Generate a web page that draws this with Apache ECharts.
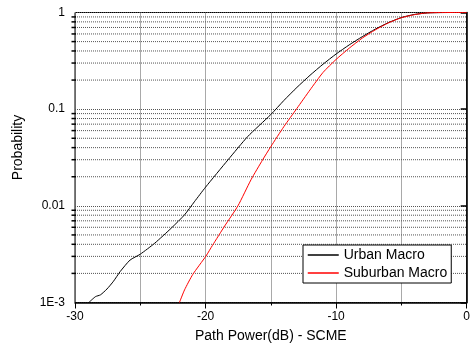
<!DOCTYPE html>
<html>
<head>
<meta charset="utf-8">
<script src="https://cdn.jsdelivr.net/npm/echarts@6/dist/echarts.min.js"></script>
<style>
  html, body { margin: 0; padding: 0; background: #fff; }
  #chart { width: 473px; height: 350px; }
</style>
</head>
<body>
<div id="chart"></div>
<script>
// CDF of path power, SCME channel model
const seriesNames = ['Urban Macro', 'Suburban Macro'];

// Urban Macro: path power (dB) and cumulative probability
const urbanDb = [-28.94, -28.43, -28.05, -27.55, -27.05, -26.54, -25.78, -25.0, -23.89, -22.62,
  -21.61, -20.86, -20.0, -18.28, -16.77, -15.0, -14.0, -13.0, -12.0, -11.0, -10.0,
  -9.0, -8.0, -7.0, -6.0, -5.0, -4.0, -3.0, -2.0, -1.0, 0];
const urbanP = [0.001, 0.00115, 0.0012, 0.00138, 0.00166, 0.00209, 0.00275, 0.00316, 0.00411, 0.00589,
  0.00807, 0.011, 0.0156, 0.0299, 0.0521, 0.088, 0.123, 0.168, 0.224, 0.292, 0.372,
  0.462, 0.562, 0.673, 0.785, 0.887, 0.955, 0.989, 0.998, 1.0, 1.0];

// Suburban Macro: path power (dB) and cumulative probability
const suburbanDb = [-22.0, -21.61, -20.98, -19.97, -19.47, -18.53, -17.52, -16.52, -15.63,
  -15.0, -14.0, -13.0, -12.0, -11.0, -10.0, -9.0, -8.0, -7.0, -6.0, -5.0, -4.0,
  -3.1, -2.0, 0];
const suburbanP = [0.001, 0.00135, 0.00195, 0.00302, 0.0039, 0.0062, 0.01, 0.0186, 0.0299,
  0.041, 0.066, 0.102, 0.158, 0.24, 0.327, 0.427, 0.543, 0.661, 0.78, 0.883, 0.95,
  0.99, 0.999, 1.0];

// Axis ticks
const xTicks = [-30, -20, -10, 0];
const yDecades = [0.001, 0.01, 0.1, 1];
const yTickLabels = ['1E-3', '0.01', '0.1', '1'];

// Minor log positions 2..9 within each decade
const yMinor = [];
yDecades.slice(0, -1).forEach(d => {
  for (let k = 2; k <= 9; k++) yMinor.push(+(k * d).toPrecision(3));
});

const FONT = 'Liberation Sans, Arial, sans-serif';
const toPairs = (xs, ys) => xs.map((x, i) => [x, ys[i]]);
const dotted = { color: '#555', width: 1, type: [1, 1] };

const chart = echarts.init(document.getElementById('chart'), null, { renderer: 'canvas' });

chart.setOption({
  animation: false,
  backgroundColor: '#fff',
  grid: {
    left: 75, right: 2, top: 12.5, bottom: 47.5,
    show: true, borderColor: '#000', borderWidth: 1, backgroundColor: 'transparent'
  },
  legend: {
    data: seriesNames,
    orient: 'vertical',
    left: 303, top: 245,
    itemWidth: 31, itemHeight: 14, itemGap: 4,
    padding: [3, 4, 3, 4],
    borderColor: '#000', borderWidth: 1, borderRadius: 0,
    backgroundColor: '#fff',
    itemStyle: { opacity: 0 },
    lineStyle: { width: 1.5 },
    textStyle: { fontFamily: FONT, fontSize: 14, color: '#000' },
    z: 10
  },
  xAxis: {
    type: 'value',
    min: xTicks[0], max: xTicks[xTicks.length - 1], interval: 10,
    name: 'Path Power(dB) - SCME',
    nameLocation: 'middle', nameGap: 27,
    nameTextStyle: { fontFamily: FONT, fontSize: 14, color: '#000' },
    axisLine: { show: true, onZero: false, lineStyle: { color: '#000', width: 1.5 } },
    axisTick: { show: true, inside: false, length: 6, lineStyle: { color: '#000', width: 1 } },
    minorTick: { show: true, splitNumber: 2, length: 3, lineStyle: { color: '#000', width: 1 } },
    axisLabel: {
      margin: 8, fontFamily: FONT, fontSize: 12, color: '#000',
      formatter: v => xTicks.includes(v) ? String(v) : ''
    },
    splitLine: { show: true, lineStyle: dotted },
    minorSplitLine: { show: true, lineStyle: dotted }
  },
  yAxis: {
    type: 'log', logBase: 10,
    min: yDecades[0], max: yDecades[yDecades.length - 1], interval: 1,
    name: 'Probability',
    nameLocation: 'middle', nameGap: 50,
    nameTextStyle: { fontFamily: FONT, fontSize: 14, color: '#000', padding: [0, 0, 0, 20] },
    axisLine: { show: true, lineStyle: { color: '#000', width: 1.5 } },
    axisTick: { show: true, inside: false, length: 6, lineStyle: { color: '#000', width: 1.5 } },
    axisLabel: {
      margin: 10, fontFamily: FONT, fontSize: 12, color: '#000',
      formatter: v => {
        const i = yDecades.findIndex(d => Math.abs(d - v) / d < 1e-6);
        return i >= 0 ? yTickLabels[i] : '';
      }
    },
    splitLine: { show: true, lineStyle: dotted }
  },
  series: [
    {
      // minor log gridlines and their ticks on the left axis
      type: 'custom',
      silent: true,
      clip: false,
      z: 1,
      data: yMinor.map(v => [xTicks[0], v]),
      encode: { x: 0, y: 1 },
      renderItem: (params, api) => {
        const v = api.value(1);
        const a = api.coord([xTicks[0], v]);
        const b = api.coord([xTicks[xTicks.length - 1], v]);
        return {
          type: 'group',
          children: [
            { type: 'line', shape: { x1: a[0], y1: a[1], x2: b[0], y2: b[1] }, style: { stroke: '#555', lineWidth: 1, lineDash: [1, 1] } },
            { type: 'line', shape: { x1: a[0] - 3.5, y1: a[1], x2: a[0] + 1, y2: a[1] }, style: { stroke: '#000', lineWidth: 1.5 } }
          ]
        };
      }
    },
    {
      name: seriesNames[0],
      type: 'line',
      data: toPairs(urbanDb, urbanP),
      symbol: 'none',
      smooth: 0.2,
      z: 3,
      lineStyle: { color: '#000', width: 1 },
      itemStyle: { color: '#000' }
    },
    {
      name: seriesNames[1],
      type: 'line',
      data: toPairs(suburbanDb, suburbanP),
      symbol: 'none',
      smooth: 0.2,
      z: 4,
      lineStyle: { color: '#ff0000', width: 1 },
      itemStyle: { color: '#ff0000' }
    }
  ]
});
</script>
</body>
</html>
